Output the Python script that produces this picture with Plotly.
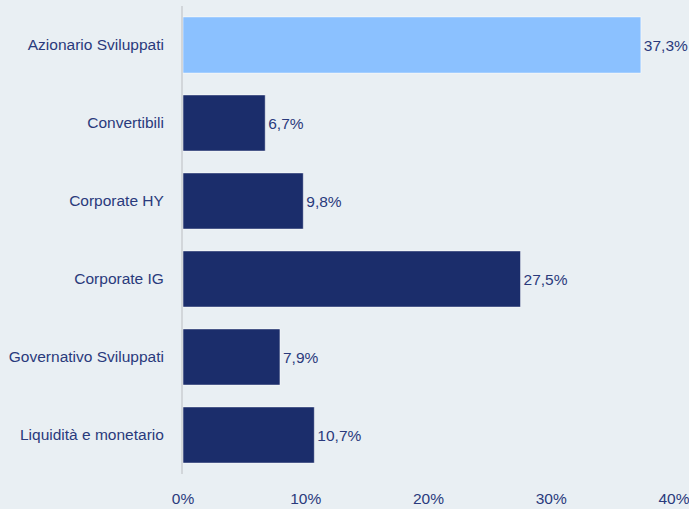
import plotly.graph_objects as go

categories = ["Azionario Sviluppati", "Convertibili", "Corporate HY", "Corporate IG",
              "Governativo Sviluppati", "Liquidità e monetario"]
values = [37.3, 6.7, 9.8, 27.5, 7.9, 10.7]
colors = ["#8BC1FF", "#1B2D6B", "#1B2D6B", "#1B2D6B", "#1B2D6B", "#1B2D6B"]
tick_vals = [0, 10, 20, 30, 40]
tick_text = ["0%", "10%", "20%", "30%", "40%"]
labels = [f"{v:.1f}%".replace(".", ",") for v in values]

text_color = "#2A3A7C"
fs = 15.5
fig = go.Figure(go.Bar(
    x=values, y=categories, orientation="h",
    marker=dict(color=colors, line=dict(color="rgba(255,255,255,0.5)", width=1)),
    text=labels, textposition="outside", cliponaxis=False,
    textfont=dict(color=text_color, size=fs, family="Liberation Sans, Arial"),
))
fig.update_layout(
    width=689, height=509,
    margin=dict(l=183, r=15, t=6, b=35, autoexpand=False),
    paper_bgcolor="#E9EFF3", plot_bgcolor="#E9EFF3",
    bargap=0.28, showlegend=False,
    font=dict(family="Liberation Sans, Arial", size=fs, color=text_color),
    xaxis=dict(range=[0, 40], tickvals=tick_vals, ticktext=tick_text, showgrid=False,
               zeroline=False, showline=False, ticklabelstandoff=13, automargin=False,
               ticklabeloverflow="allow", fixedrange=True),
    yaxis=dict(autorange="reversed", showgrid=False, showline=True, linecolor="#D2D6DA",
               linewidth=2, ticks="", ticklabelstandoff=14, zeroline=False, automargin=False),
)
fig.write_html("out.html", config={"displayModeBar": False},
               post_script="document.body.style.margin='0';document.body.style.background='#E9EFF3';")
